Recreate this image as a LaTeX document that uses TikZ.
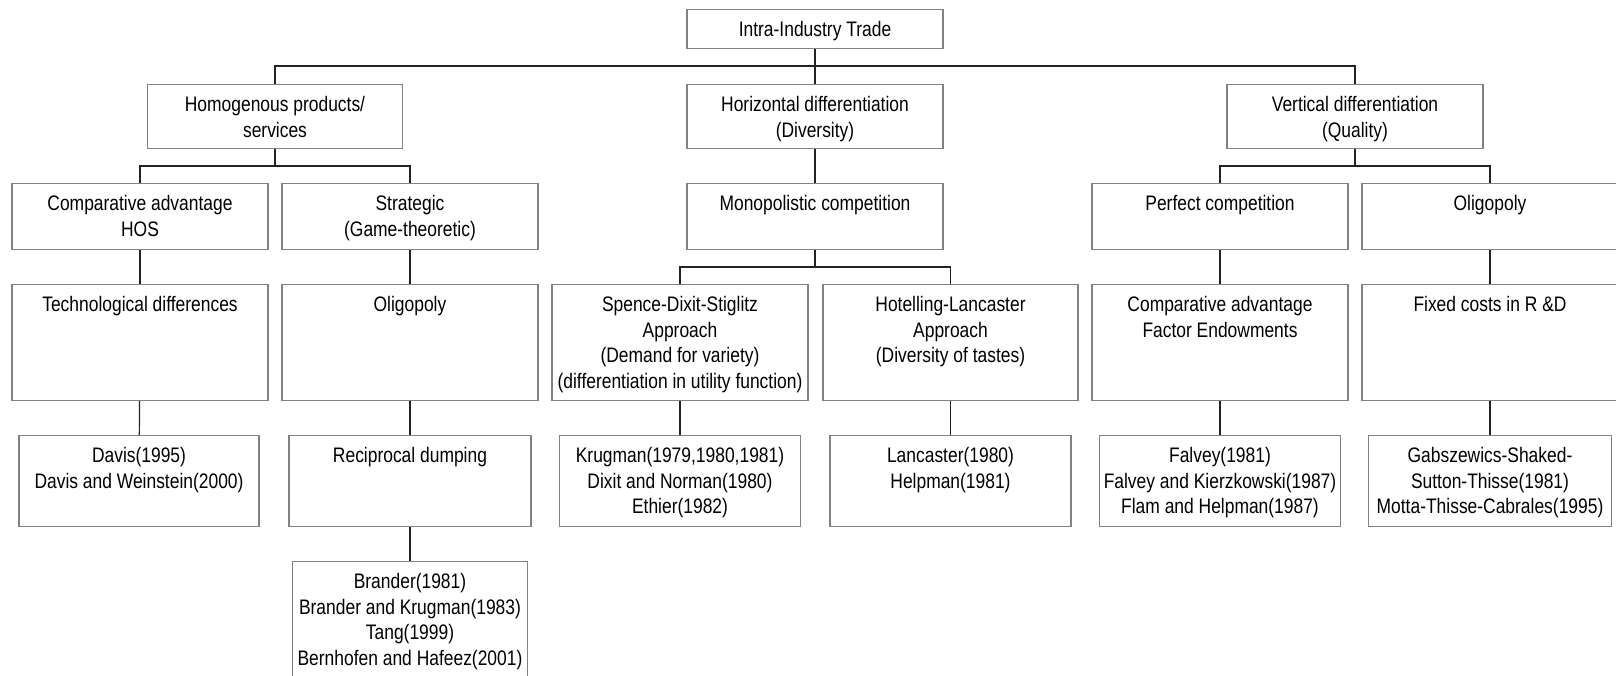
\documentclass[tikz,border=0pt]{standalone}
\usepackage{fontspec}
\setmainfont{Liberation Sans}[FakeStretch=0.83]
\definecolor{boxgray}{RGB}{130,130,130}
\definecolor{linegray}{RGB}{35,35,35}
\newcommand{\txtbox}[3]{\parbox[c][#2][t]{#1}{\centering\rule{0pt}{27pt}#3\par}}
\tikzset{
  box/.style={draw=boxgray, line width=1.2pt, inner sep=0pt, anchor=north, fill=white,
    font=\fontsize{21pt}{25.5pt}\selectfont},
  link/.style={draw=linegray, line width=1.2pt}
}
\begin{document}
\begin{tikzpicture}[x=1pt,y=-1pt]
  \clip (0,0) rectangle (1616,676);
  \fill[white] (0,0) rectangle (1616,676);
  % top
  \node[box] (root) at (815,9) {\txtbox{256pt}{39pt}{Intra-Industry Trade}};
  % level 2
  \node[box] (homog) at (275,84) {\txtbox{255pt}{64pt}{Homogenous products/\\services}};
  \node[box] (horiz) at (815,84) {\txtbox{256pt}{64pt}{Horizontal differentiation\\(Diversity)}};
  \node[box] (vert) at (1355,84) {\txtbox{256pt}{64pt}{Vertical differentiation\\(Quality)}};
  % level 3
  \node[box] (compadv) at (140,183) {\txtbox{256pt}{66pt}{Comparative advantage\\HOS}};
  \node[box] (strat) at (410,183) {\txtbox{256pt}{66pt}{Strategic\\(Game-theoretic)}};
  \node[box] (monop) at (815,183) {\txtbox{256pt}{66pt}{Monopolistic competition}};
  \node[box] (perfect) at (1220,183) {\txtbox{256pt}{66pt}{Perfect competition}};
  \node[box] (oligo) at (1490,183) {\txtbox{256pt}{66pt}{Oligopoly}};
  % level 4
  \node[box] (techdiff) at (140,284) {\txtbox{256pt}{116pt}{Technological differences}};
  \node[box] (oligotwo) at (410,284) {\txtbox{256pt}{116pt}{Oligopoly}};
  \node[box] (sds) at (680,284) {\txtbox{256pt}{116pt}{Spence-Dixit-Stiglitz\\Approach\\(Demand for variety)\\(differentiation in utility function)}};
  \node[box] (hotel) at (950.5,284) {\txtbox{255pt}{116pt}{Hotelling-Lancaster\\Approach\\(Diversity of tastes)}};
  \node[box] (factor) at (1220,284) {\txtbox{256pt}{116pt}{Comparative advantage\\Factor Endowments}};
  \node[box] (fixedrd) at (1490,284) {\txtbox{256pt}{116pt}{Fixed costs in R \&D}};
  % level 5
  \node[box] (davis) at (139,435) {\txtbox{240pt}{91pt}{Davis(1995)\\Davis and Weinstein(2000)}};
  \node[box] (dumping) at (410,435) {\txtbox{242pt}{91pt}{Reciprocal dumping}};
  \node[box] (krugman) at (680,435) {\txtbox{241pt}{91pt}{Krugman(1979,1980,1981)\\Dixit and Norman(1980)\\Ethier(1982)}};
  \node[box] (lancaster) at (950.5,435) {\txtbox{241pt}{91pt}{Lancaster(1980)\\Helpman(1981)}};
  \node[box] (falvey) at (1220,435) {\txtbox{241pt}{91pt}{Falvey(1981)\\Falvey and Kierzkowski(1987)\\Flam and Helpman(1987)}};
  \node[box] (gabsz) at (1490,435) {\txtbox{243pt}{91pt}{Gabszewics-Shaked-\\Sutton-Thisse(1981)\\Motta-Thisse-Cabrales(1995)}};
  % level 6
  \node[box] (brander) at (410,561) {\txtbox{235pt}{130pt}{Brander(1981)\\Brander and Krugman(1983)\\Tang(1999)\\Bernhofen and Hafeez(2001)}};
  % connectors
  \draw[link] (root.south) -- (horiz.north);
  \draw[link] (homog.north) -- ++(0,-18) -| (vert.north);
  \draw[link] (homog.south) -- ++(0,18);
  \draw[link] (compadv.north) -- ++(0,-17) -| (strat.north);
  \draw[link] (horiz.south) -- (monop.north);
  \draw[link] (vert.south) -- ++(0,18);
  \draw[link] (perfect.north) -- ++(0,-17) -| (oligo.north);
  \draw[link] (monop.south) -- ++(0,18);
  \draw[link] (sds.north) -- ++(0,-17) -| (hotel.north);
  \draw[link] (compadv) -- (techdiff);
  \draw[link] (strat) -- (oligotwo);
  \draw[link] (perfect) -- (factor);
  \draw[link] (oligo) -- (fixedrd);
  \draw[link] (techdiff) -- (davis);
  \draw[link] (oligotwo) -- (dumping);
  \draw[link] (sds) -- (krugman);
  \draw[link] (hotel) -- (lancaster);
  \draw[link] (factor) -- (falvey);
  \draw[link] (fixedrd) -- (gabsz);
  \draw[link] (dumping) -- (brander);
\end{tikzpicture}
\end{document}
